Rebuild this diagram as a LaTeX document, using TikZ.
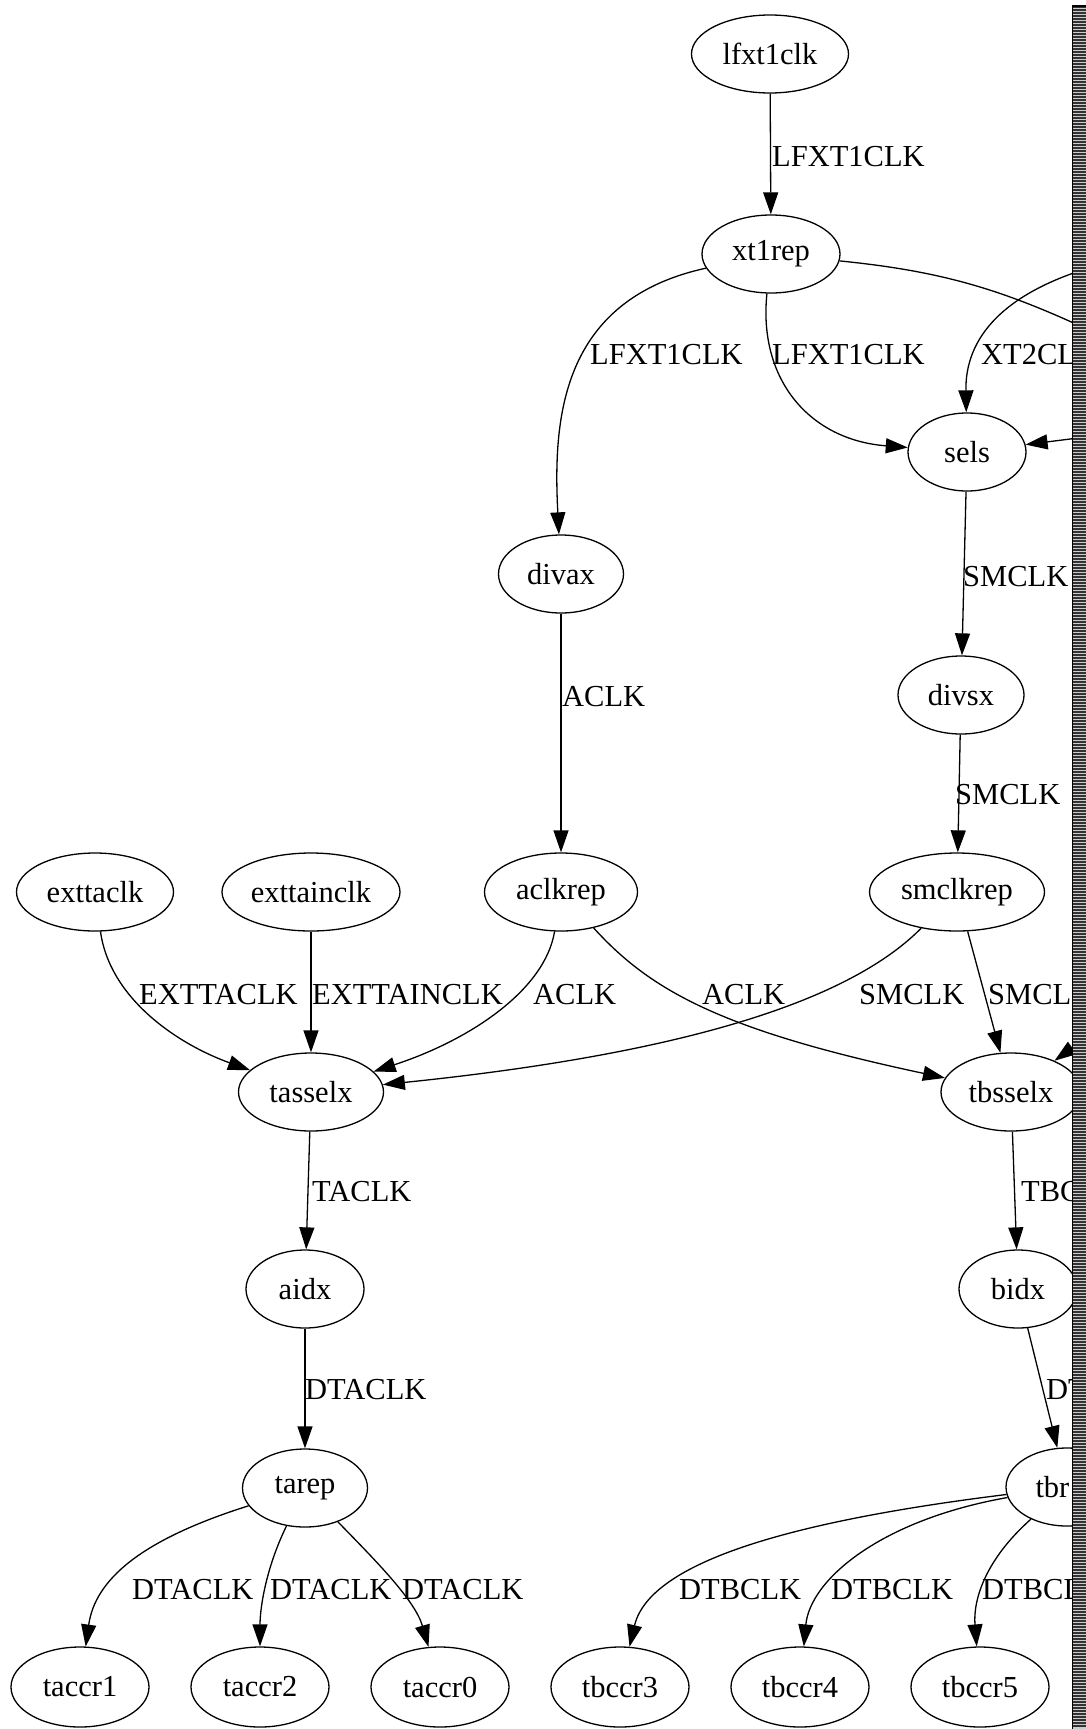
\documentclass[tikz,border=0pt]{standalone}
\usepackage{fontspec}
\setmainfont{Liberation Serif}
\usetikzlibrary{arrows.meta,shapes.geometric}
\begin{document}
\begin{tikzpicture}[x=1pt,y=-1pt,
  every node/.style={font=\fontsize{30.5}{36}\selectfont},
  nd/.style={draw, ellipse, line width=1.3pt, inner sep=0pt, minimum height=78pt},
  ed/.style={-{Triangle[length=22pt,width=15pt]}, line width=1.3pt},
  pl/.style={line width=1.3pt},
  lb/.style={anchor=west, inner sep=0pt}]
\useasboundingbox (0,0) rectangle (1086,1729);
\fill[white] (0,0) rectangle (1086,1729);
% nodes
\node[nd,minimum width=157pt] (lfxt1clk) at (770,54) {lfxt1clk};
\node[nd,minimum width=138pt] (xt1rep) at (771,254) {xt1rep};
\node[nd,minimum width=118pt] (sels) at (967,452) {sels};
\node[nd,minimum width=125pt] (divax) at (561,574) {divax};
\node[nd,minimum width=126pt] (divsx) at (961,695) {divsx};
\node[nd,minimum width=157pt] (exttaclk) at (95,892) {exttaclk};
\node[nd,minimum width=178pt] (exttainclk) at (311,892) {exttainclk};
\node[nd,minimum width=153pt] (aclkrep) at (561,892) {aclkrep};
\node[nd,minimum width=175pt] (smclkrep) at (957,892) {smclkrep};
\node[nd,minimum width=145pt] (tasselx) at (311,1092) {tasselx};
\node[nd,minimum width=140pt] (tbsselx) at (1011,1092) {tbsselx};
\node[nd,minimum width=118pt] (aidx) at (305,1289) {aidx};
\node[nd,minimum width=118pt] (bidx) at (1018,1289) {bidx};
\node[nd,minimum width=125pt] (tarep) at (305,1488) {tarep};
\node[nd,minimum width=122pt] (tbrep) at (1067,1487) {\makebox[63pt][l]{tbr}};
\node[nd,minimum width=138pt,minimum height=80pt] (taccr1) at (80,1687) {taccr1};
\node[nd,minimum width=138pt,minimum height=80pt] (taccr2) at (260,1687) {taccr2};
\node[nd,minimum width=138pt,minimum height=80pt] (taccr0) at (440,1687) {taccr0};
\node[nd,minimum width=138pt,minimum height=80pt] (tbccr3) at (620,1687) {tbccr3};
\node[nd,minimum width=138pt,minimum height=80pt] (tbccr4) at (800,1687) {tbccr4};
\node[nd,minimum width=138pt,minimum height=80pt] (tbccr5) at (980,1687) {tbccr5};
% off-picture ends
\coordinate (x1) at (1110,340);
\coordinate (x2) at (1110,262);
\coordinate (x3) at (1110,434);
\coordinate (x4) at (1100,1028);
% edges
\draw[ed] (lfxt1clk) -- (xt1rep);
\draw[ed] (xt1rep) .. controls (560,300) and (553,420) .. (divax);
\draw[ed] (xt1rep) .. controls (758,380) and (810,440) .. (sels);
\draw[pl] (xt1rep) .. controls (950,272) and (1010,292) .. (x1);
\draw[ed] (x2) .. controls (1000,290) and (965,340) .. (sels);
\draw[ed] (x3) -- (sels);
\draw[ed] (sels) -- (divsx);
\draw[ed] (divax) -- (aclkrep);
\draw[ed] (divsx) -- (smclkrep);
\draw[ed] (exttaclk) .. controls (110,1000) and (180,1045) .. (tasselx);
\draw[ed] (exttainclk) -- (tasselx);
\draw[ed] (aclkrep) .. controls (545,990) and (470,1040) .. (tasselx);
\draw[ed] (aclkrep) .. controls (650,990) and (720,1030) .. (tbsselx);
\draw[ed] (smclkrep) .. controls (860,990) and (720,1050) .. (tasselx);
\draw[ed] (smclkrep) -- (tbsselx);
\draw[ed] (x4) -- (tbsselx);
\draw[ed] (tasselx) -- (aidx);
\draw[ed] (aidx) -- (tarep);
\draw[ed] (tbsselx) -- (bidx);
\draw[ed] (bidx) -- (tbrep);
\draw[ed] (tarep) .. controls (140,1540) and (95,1580) .. (taccr1);
\draw[ed] (tarep) .. controls (265,1570) and (260,1610) .. (taccr2);
\draw[ed] (tarep) .. controls (375,1560) and (415,1600) .. (taccr0);
\draw[ed] (tbrep) .. controls (800,1520) and (650,1560) .. (tbccr3);
\draw[ed] (tbrep) .. controls (880,1520) and (810,1580) .. (tbccr4);
\draw[ed] (tbrep) .. controls (985,1560) and (973,1600) .. (tbccr5);
% labels
\node[lb] (L1) at (772,157) {LFXT1CLK};
\node[lb] (L2) at (590,355) {LFXT1CLK};
\node[lb] (L3) at (772,355) {LFXT1CLK};
\node[lb] (L4) at (981,355) {XT2CL};
\node[lb] (L5) at (963,577) {SMCLK};
\node[lb] (L6) at (562,697) {ACLK};
\node[lb] (L7) at (955,795) {SMCLK};
\node[lb] (L8) at (139,995) {EXTTACLK};
\node[lb] (L9) at (312,995) {EXTTAINCLK};
\node[lb] (L10) at (533,995) {ACLK};
\node[lb] (L11) at (702,995) {ACLK};
\node[lb] (L12) at (859,995) {SMCLK};
\node[lb] (L13) at (988,995) {SMCL};
\node[lb] (L14) at (312,1192) {TACLK};
\node[lb] (L15) at (1021,1192) {TBC};
\node[lb] (L16) at (305,1390) {DTACLK};
\node[lb] (L17) at (1046,1390) {DT};
\node[lb] (L18) at (132,1590) {DTACLK};
\node[lb] (L19) at (270,1590) {DTACLK};
\node[lb] (L20) at (402,1590) {DTACLK};
\node[lb] (L21) at (679,1590) {DTBCLK};
\node[lb] (L22) at (831,1590) {DTBCLK};
\node[lb] (L23) at (982,1590) {DTBCL};
% striped bar on the right edge
\fill[gray!40] (1072,6) rectangle (1086,1729);
\foreach \yy in {7,10,...,1727} \draw[black!80, line width=1.4pt] (1072,\yy) -- (1086,\yy);
\draw[line width=1.5pt] (1072.5,1729) -- (1072.5,6) -- (1086,6);
\end{tikzpicture}
\end{document}
